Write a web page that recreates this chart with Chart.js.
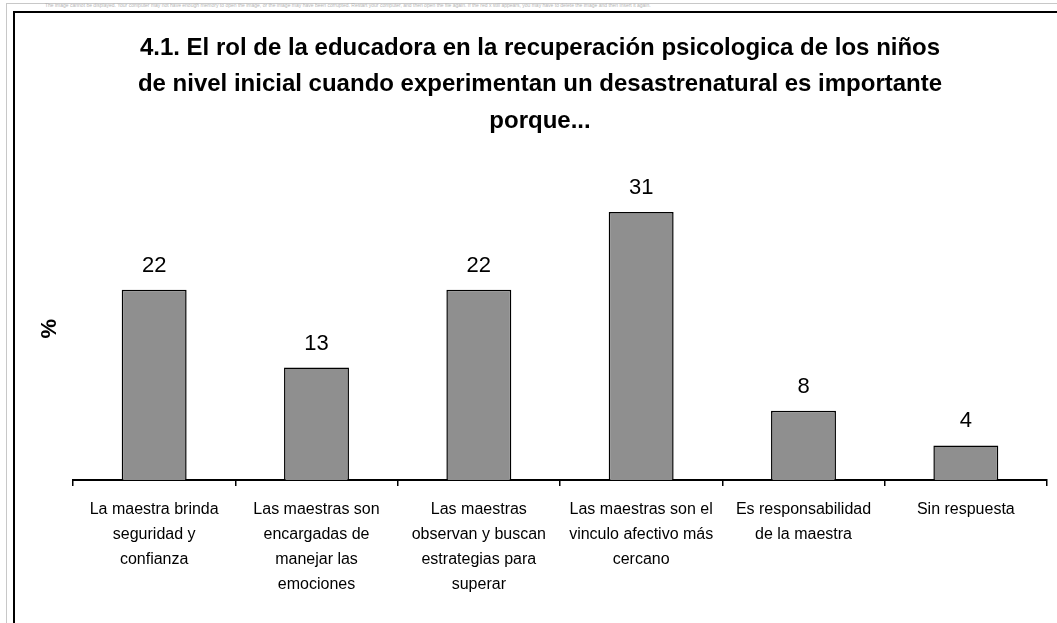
<!DOCTYPE html>
<html>
<head>
<meta charset="utf-8">
<script src="https://cdn.jsdelivr.net/npm/chart.js@4"></script>
<style>
  html, body { margin: 0; padding: 0; background: #fff; }
  #wrap { position: relative; width: 1057px; height: 623px; overflow: hidden; }
  #outer { position: absolute; left: 6px; top: 3px; width: 1060px; height: 640px; border-left: 1px solid #c8c8c8; border-top: 1px solid #c8c8c8; }
  #frame { position: absolute; left: 13px; top: 11px; width: 1060px; height: 640px; border-left: 2px solid #000; border-top: 2px solid #000; }
  #note { position: absolute; left: 45px; top: 2px; font: 5px 'Liberation Sans', Arial, sans-serif; color: #b4b4b4; white-space: nowrap; }
  canvas { position: absolute; left: 0; top: 0; }
</style>
</head>
<body>
<div id="wrap">
  <div id="outer"></div>
  <div id="note">The image cannot be displayed. Your computer may not have enough memory to open the image, or the image may have been corrupted. Restart your computer, and then open the file again. If the red x still appears, you may have to delete the image and then insert it again.</div>
  <div id="frame"></div>
  <canvas id="chart" width="1057" height="623"></canvas>
</div>
<script>
  // chart data
  const titleLines = [
    '4.1. El rol de la educadora en la recuperación psicologica de los niños',
    'de nivel inicial cuando experimentan un desastrenatural es importante',
    'porque...',
  ]
  const categories = [
    ['La maestra brinda', 'seguridad y', 'confianza'],
    ['Las maestras son', 'encargadas de', 'manejar las', 'emociones'],
    ['Las maestras', 'observan y buscan', 'estrategias para', 'superar'],
    ['Las maestras son el', 'vinculo afectivo más', 'cercano'],
    ['Es responsabilidad', 'de la maestra'],
    ['Sin respuesta'],
  ]
  const values = [22, 13, 22, 31, 8, 4]

  const font = "'Liberation Sans', Arial, sans-serif"

  // draws the number above each bar
  const valueLabels = {
    id: 'valueLabels',
    afterDatasetsDraw(chart) {
      const ctx = chart.ctx
      const meta = chart.getDatasetMeta(0)
      ctx.save()
      ctx.fillStyle = '#000'
      ctx.font = '22px ' + font
      ctx.textAlign = 'center'
      ctx.textBaseline = 'middle'
      meta.data.forEach((bar, i) => {
        ctx.fillText(String(values[i]), bar.x, bar.y - 24)
      })
      ctx.restore()
    },
  }

  new Chart(document.getElementById('chart'), {
    type: 'bar',
    data: {
      labels: categories,
      datasets: [
        {
          data: values,
          backgroundColor: '#8f8f8f',
          borderColor: '#000',
          borderWidth: 1.5,
          categoryPercentage: 1,
          barPercentage: 0.4,
        },
      ],
    },
    options: {
      responsive: false,
      animation: false,
      layout: { padding: { left: 33, right: 10, top: 0, bottom: 0 } },
      scales: {
        x: {
          afterFit: (s) => { s.height = 143 },
          grid: { offset: true, drawOnChartArea: false, tickLength: 6, color: '#000', lineWidth: 1.5 },
          border: { color: '#000', width: 2 },
          ticks: {
            color: '#000',
            padding: 11,
            maxRotation: 0,
            autoSkip: false,
            font: { family: font, size: 16, lineHeight: 1.5625 },
          },
        },
        y: {
          min: 0,
          max: 35,
          afterFit: (s) => { s.width = 40 },
          grid: { display: false },
          border: { display: false },
          ticks: { display: false },
          title: {
            display: true,
            text: '%',
            color: '#000',
            font: { family: font, size: 22, weight: 'bold', lineHeight: 1.2 },
          },
        },
      },
      plugins: {
        legend: { display: false },
        tooltip: { enabled: false },
        title: {
          display: true,
          text: titleLines,
          color: '#000',
          padding: { top: 30, bottom: 38 },
          font: { family: font, size: 24, weight: 'bold', lineHeight: 1.52 },
        },
      },
    },
    plugins: [valueLabels],
  })
</script>
</body>
</html>
